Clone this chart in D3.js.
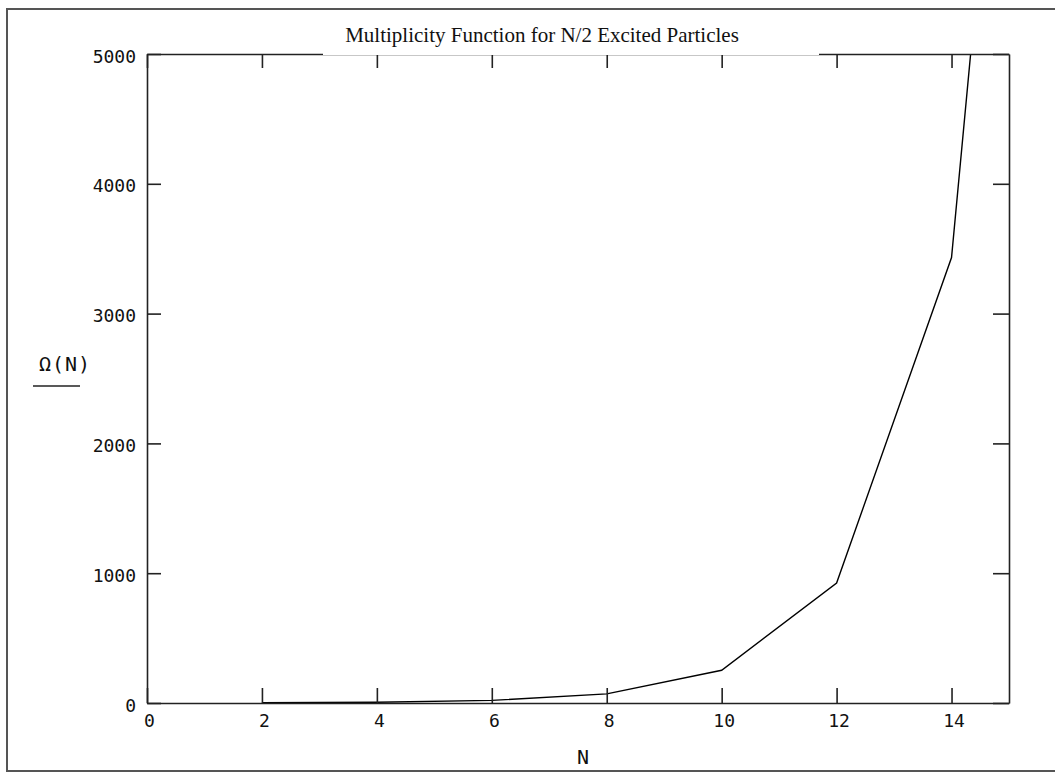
<!DOCTYPE html>
<html>
<head>
<meta charset="utf-8">
<script src="https://cdn.jsdelivr.net/npm/d3@7"></script>
<style>
  body { margin: 0; background: #fff; }
  svg { display: block; }
  .axis path { stroke: #222; stroke-width: 1.6px; }
  .axis line { stroke: #222; stroke-width: 1.6px; }
  .axis text { font-family: "DejaVu Sans Mono", monospace; font-size: 18px; fill: #111; }
</style>
</head>
<body>
<svg id="chart"></svg>
<script>
const title = "Multiplicity Function for N/2 Excited Particles"
const xLabel = "N"
const yLabel = "Ω(N)"
// N (even particle counts) and Ω(N)
const nValues = [2, 4, 6, 8, 10, 12, 14, 16]
const omegaValues = [2, 6, 20, 70, 252, 924, 3432, 12870]
const xTicks = [0, 2, 4, 6, 8, 10, 12, 14]
const yTicks = [0, 1000, 2000, 3000, 4000, 5000]

const width = 1055, height = 773
const plot = {left: 147, right: 1009, top: 54, bottom: 703}

const svg = d3.select('#chart')
  .attr('width', width)
  .attr('height', height)

// outer frame (right edge runs off the picture)
svg.append('rect')
  .attr('x', 7).attr('y', 9)
  .attr('width', 1052).attr('height', 762)
  .attr('fill', 'none')
  .attr('stroke', '#555')
  .attr('stroke-width', 2)

const x = d3.scaleLinear().domain([0, 15]).range([plot.left, plot.right])
const y = d3.scaleLinear().domain([0, 5000]).range([plot.bottom, plot.top])

svg.append('defs').append('clipPath').attr('id', 'clip')
  .append('rect')
  .attr('x', plot.left).attr('y', plot.top)
  .attr('width', plot.right - plot.left).attr('height', plot.bottom - plot.top)

// data line
const pts = nValues.map((n, i) => ({n: n, v: omegaValues[i]}))
svg.append('path')
  .datum(pts)
  .attr('clip-path', 'url(#clip)')
  .attr('fill', 'none')
  .attr('stroke', '#000')
  .attr('stroke-width', 1.4)
  .attr('d', d3.line()
    .x(function(d) { return x(d.n) })
    .y(function(d) { return y(d.v) }))

// bottom axis
const gx = svg.append('g')
  .attr('class', 'axis')
  .attr('transform', 'translate(0,' + plot.bottom + ')')
  .call(d3.axisBottom(x).tickValues(xTicks).tickSizeInner(-15).tickSizeOuter(0).tickFormat(d3.format('d')))
gx.selectAll('text').attr('y', 11).attr('dy', '0.71em').attr('dx', 2)

// top axis, ticks only
svg.append('g')
  .attr('class', 'axis')
  .attr('transform', 'translate(0,' + plot.top + ')')
  .call(d3.axisTop(x).tickValues(xTicks).tickSizeInner(-14).tickSizeOuter(0).tickFormat(''))

// left axis
const gy = svg.append('g')
  .attr('class', 'axis')
  .attr('transform', 'translate(' + plot.left + ',0)')
  .call(d3.axisLeft(y).tickValues(yTicks).tickSizeInner(-14).tickSizeOuter(0).tickFormat(d3.format('d')))
gy.selectAll('text').attr('x', -11).attr('dy', '0.45em')

// right axis, ticks only
svg.append('g')
  .attr('class', 'axis')
  .attr('transform', 'translate(' + plot.right + ',0)')
  .call(d3.axisRight(y).tickValues(yTicks).tickSizeInner(-16).tickSizeOuter(0).tickFormat(''))

// title box covers the top edge of the frame
svg.append('rect')
  .attr('x', 323).attr('y', 10)
  .attr('width', 496).attr('height', 45)
  .attr('fill', '#fff')

svg.append('text')
  .attr('x', 542).attr('y', 42)
  .attr('text-anchor', 'middle')
  .style('font-family', '"Liberation Serif", "Times New Roman", serif')
  .style('font-size', '21px')
  .attr('fill', '#111')
  .text(title)

// axis titles
svg.append('text')
  .attr('x', 583).attr('y', 764)
  .attr('text-anchor', 'middle')
  .style('font-family', '"DejaVu Sans Mono", monospace')
  .style('font-size', '20px')
  .attr('fill', '#111')
  .text(xLabel)

svg.append('text')
  .attr('x', 65).attr('y', 371)
  .attr('text-anchor', 'middle')
  .style('font-family', '"DejaVu Sans Mono", monospace')
  .style('font-size', '20px')
  .style('letter-spacing', '1px')
  .attr('fill', '#111')
  .text(yLabel)

svg.append('line')
  .attr('x1', 33).attr('x2', 80)
  .attr('y1', 386).attr('y2', 386)
  .attr('stroke', '#222')
  .attr('stroke-width', 1.6)
</script>
</body>
</html>
